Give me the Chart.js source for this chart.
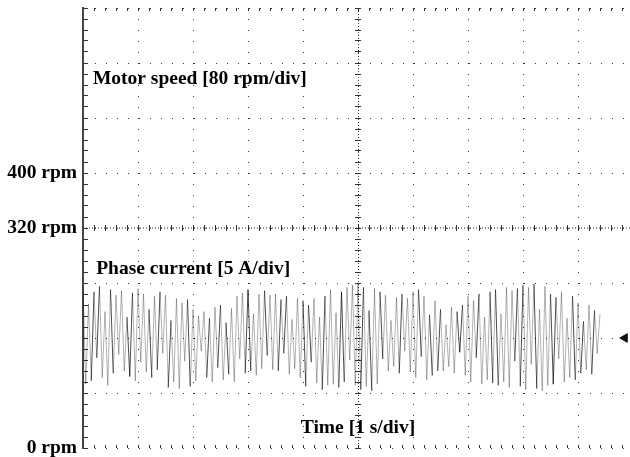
<!DOCTYPE html>
<html>
<head>
<meta charset="utf-8">
<script src="https://cdn.jsdelivr.net/npm/chart.js@4"></script>
<style>
  html, body { margin: 0; padding: 0; background: #fff; overflow: hidden; }
  canvas { display: block; }
</style>
</head>
<body>
<canvas id="scopeChart" width="640" height="457"></canvas>
<script>
// speed trace (rpm) - sits flat on the 320 rpm line
const speedTime = [0, 10];
const speedRpm = [320, 320];

// y tick positions and the few that carry a label
const rpmTicks = [0, 80, 160, 240, 320, 400, 480, 560, 640];
const rpmTickLabels = { 0: '0 rpm', 320: '320 rpm', 400: '400 rpm' };

// phase current samples in A, one every 0.05 s from t = 0
const sampleStep = 0.05;
const phaseCurrent = [
  4.6, -4.2, 3.1, -3.9, 4.2, -1.8, 4.7, -3.6, 2.4, -4.3,
  4.4, -3.2, 3.9, -1.5, 4.3, -3.0, 1.9, -3.5, 4.1, -3.9,
  4.5, -2.2, 4.0, -3.1, 2.6, -3.6, 3.8, -2.9, 4.2, -1.4,
  3.9, -4.5, 1.6, -4.0, 3.6, -4.6, 3.2, -2.1, 3.5, -4.4,
  2.6, -3.9, 2.0, -1.2, 2.4, -3.6, 1.8, -4.0, 2.8, -2.7,
  3.0, -3.8, 1.4, -3.3, 2.7, -4.0, 3.8, -1.9, 4.1, -3.2,
  4.4, -3.0, 2.2, -3.4, 4.0, -2.8, 4.3, -1.6, 3.9, -2.9,
  4.0, -3.0, 3.5, -1.4, 3.8, -3.3, 1.7, -2.8, 3.6, -3.6,
  3.4, -4.4, 3.0, -2.2, 3.6, -4.1, 1.9, -4.7, 3.8, -4.3,
  4.4, -4.2, 2.3, -4.5, 4.2, -4.0, 4.6, -2.0, 4.8, -4.3,
  4.9, -4.7, 4.6, -4.4, 2.5, -4.8, 4.5, -4.2, 4.2, -1.9,
  3.9, -3.0, 1.6, -2.6, 3.7, -3.2, 4.0, -1.2, 3.6, -3.1,
  4.2, -3.6, 4.4, -1.7, 3.8, -3.8, 2.1, -3.4, 3.4, -3.0,
  2.6, -3.0, 1.2, -2.6, 2.8, -3.2, 2.4, -1.3, 3.0, -3.4,
  3.8, -4.0, 3.4, -1.8, 4.0, -4.2, 1.9, -3.8, 4.2, -4.1,
  4.4, -4.3, 2.2, -4.0, 4.6, -4.5, 4.3, -2.1, 4.5, -4.4,
  4.8, -4.7, 4.6, -2.4, 4.9, -4.6, 2.6, -4.8, 4.7, -4.3,
  4.0, -4.2, 3.7, -1.9, 4.2, -4.0, 1.8, -3.6, 3.8, -3.8,
  3.2, -3.2, 1.5, -2.9, 3.0, -3.3, 2.5, -1.4, 2.2
];

// channel 2 ground marker at the right edge
const markerTime = [9.85];
const markerCurrent = [0];

const serif = { family: '"Liberation Serif", "Times New Roman", serif', size: 19.5, weight: 'bold' };
const dots = [1, 10];

const currentPoints = phaseCurrent.map((v, i) => ({ x: i * sampleStep, y: v }));
const speedPoints = speedTime.map((t, i) => ({ x: t, y: speedRpm[i] }));
const markerPoints = markerTime.map((t, i) => ({ x: t, y: markerCurrent[i] }));

// little tick marks along a line, no labels
function tickAxis(axis, position, min, max, step, len) {
  return {
    axis: axis, type: 'linear', position: position, min: min, max: max,
    ticks: { display: false, stepSize: step },
    grid: { drawOnChartArea: false, drawTicks: true, tickLength: len, tickColor: '#333', tickWidth: 1 },
    border: { display: false }
  };
}

const scopeText = {
  id: 'scopeText',
  afterDatasetsDraw(chart) {
    const { ctx, scales: { x, y } } = chart;
    const notes = [
      ['Motor speed [80 rpm/div]', 0.18, 529],
      ['Phase current [5 A/div]', 0.24, 253],
      ['Time [1 s/div]', 3.96, 22]
    ];
    ctx.save();
    ctx.font = 'bold 19.5px "Liberation Serif", serif';
    ctx.fillStyle = '#000';
    ctx.textBaseline = 'alphabetic';
    notes.forEach(n => ctx.fillText(n[0], x.getPixelForValue(n[1]), y.getPixelForValue(n[2])));
    ctx.restore();
  }
};

window.onload = function() {
  const ctx = document.getElementById('scopeChart').getContext('2d');
  new Chart(ctx, {
    type: 'line',
    data: {
      datasets: [
        {
          label: 'Phase current',
          data: currentPoints,
          yAxisID: 'yI',
          borderColor: 'rgba(0,0,0,0.3)',
          segment: {
            // scope persistence leaves some strokes darker than others
            borderColor: c => (c.p0DataIndex % 7 === 3 || c.p0DataIndex % 11 === 5) ? 'rgba(0,0,0,0.7)' : 'rgba(0,0,0,0.3)'
          },
          borderWidth: 1,
          tension: 0,
          pointRadius: 0
        },
        {
          label: 'Motor speed',
          data: speedPoints,
          borderColor: '#222',
          borderWidth: 1,
          borderDash: [1, 2],
          pointRadius: 0
        },
        {
          label: 'CH2',
          data: markerPoints,
          yAxisID: 'yI',
          showLine: false,
          pointStyle: 'triangle',
          rotation: -90,
          pointRadius: 5,
          pointBackgroundColor: '#111',
          pointBorderColor: '#111'
        }
      ]
    },
    options: {
      responsive: false,
      animation: false,
      layout: { padding: { left: 0, top: 8, right: 7, bottom: 9 } },
      plugins: { legend: { display: false }, tooltip: { enabled: false } },
      scales: {
        x: {
          type: 'linear', position: { y: 0 }, min: 0, max: 10,
          ticks: { display: false, stepSize: 1 },
          grid: { color: '#333', lineWidth: 1, drawTicks: false },
          border: { display: false, dash: dots }
        },
        y: {
          type: 'linear', position: 'left', min: 0, max: 640,
          afterBuildTicks: s => { s.ticks = rpmTicks.map(v => ({ value: v })); },
          afterFit: s => { s.width = 83; s.paddingTop = 0; s.paddingBottom = 0; },
          ticks: {
            padding: 6, color: '#000', font: serif,
            callback: v => rpmTickLabels[v] || ''
          },
          grid: { color: '#333', lineWidth: 1, drawTicks: false },
          border: { display: true, color: '#444', width: 2, dash: dots }
        },
        yI: { type: 'linear', min: -10, max: 30, display: false },
        xMid: {
          axis: 'x', type: 'linear', position: { y: 0 }, min: 0, max: 10,
          afterBuildTicks: s => { s.ticks = [{ value: 5 }]; },
          ticks: { display: false },
          grid: { color: '#333', lineWidth: 1, drawTicks: false },
          border: { display: false, dash: [1, 2] }
        },
        xCT: tickAxis('x', { y: 324.4 }, 0, 10, 0.2, 6),
        yCT: tickAxis('y', { x: 5.055 }, 0, 640, 16, 6),
        yLT: tickAxis('y', { x: 0.09 }, 0, 640, 16, 4),
        xTT: tickAxis('x', { y: 640 }, 0, 10, 0.2, 3),
        xBT: tickAxis('x', { y: 4.4 }, 0, 10, 0.2, 3)
      }
    },
    plugins: [scopeText]
  });
};
</script>
</body>
</html>
